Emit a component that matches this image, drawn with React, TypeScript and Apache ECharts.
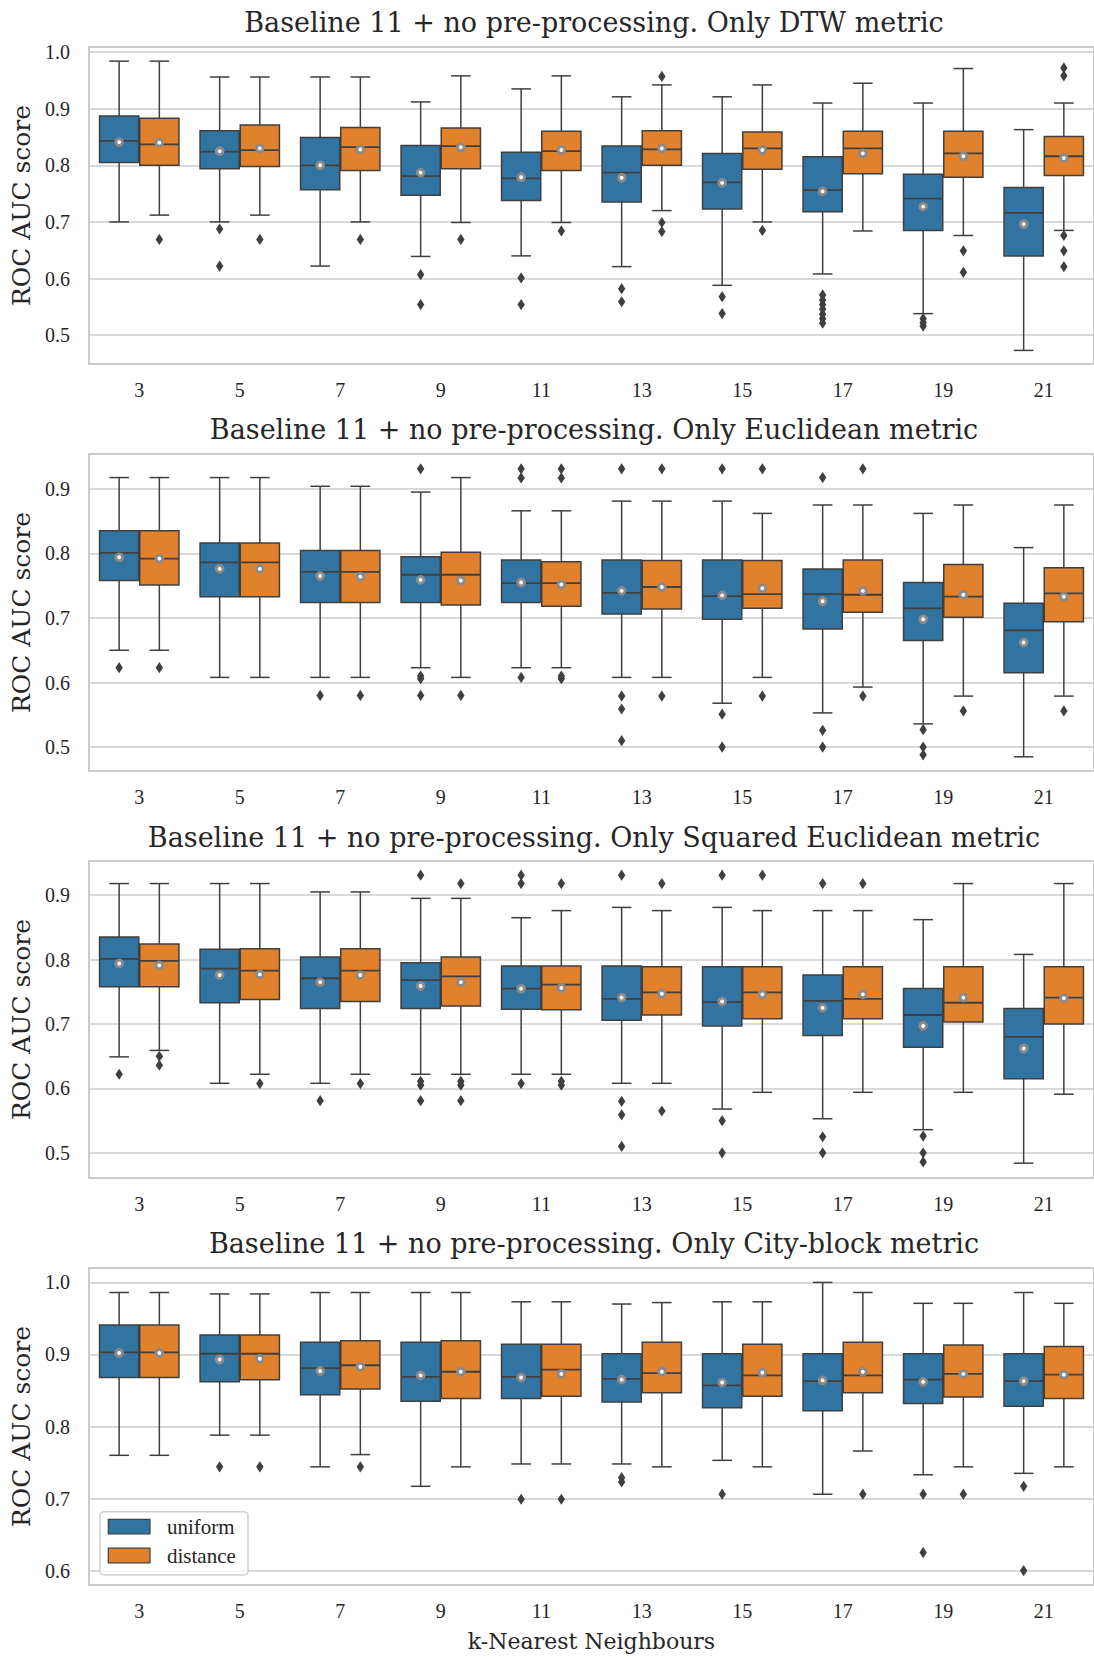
import { useEffect, useRef } from "react";
import * as echarts from "echarts";

// ---------- data ----------
const categories = ["3", "5", "7", "9", "11", "13", "15", "17", "19", "21"];
const groupNames = ["uniform", "distance"];
const panelTitles = [
  "Baseline 11 + no pre-processing. Only DTW metric",
  "Baseline 11 + no pre-processing. Only Euclidean metric",
  "Baseline 11 + no pre-processing. Only Squared Euclidean metric",
  "Baseline 11 + no pre-processing. Only City-block metric",
];
const yRanges = [
  [0.449, 1.009],
  [0.463, 0.954],
  [0.461, 0.953],
  [0.58, 1.02],
];

// [lower whisker, Q1, median, Q3, upper whisker]
const dtwUniform = [
  [0.7, 0.805, 0.843, 0.887, 0.984],
  [0.7, 0.794, 0.824, 0.861, 0.956],
  [0.622, 0.757, 0.8, 0.849, 0.956],
  [0.639, 0.747, 0.781, 0.835, 0.912],
  [0.64, 0.738, 0.777, 0.823, 0.935],
  [0.621, 0.735, 0.787, 0.834, 0.921],
  [0.588, 0.723, 0.77, 0.821, 0.921],
  [0.608, 0.718, 0.756, 0.815, 0.91],
  [0.538, 0.685, 0.741, 0.784, 0.91],
  [0.473, 0.64, 0.716, 0.761, 0.863],
];
const dtwUniformMean = [0.841, 0.825, 0.8, 0.787, 0.779, 0.778, 0.769, 0.754, 0.727, 0.696];
const dtwUniformOut = [
  [], [0.6875, 0.622], [], [0.607, 0.554], [0.601, 0.554], [0.582, 0.559], [0.568, 0.538],
  [0.571, 0.562, 0.554, 0.546, 0.537, 0.529, 0.521], [0.529, 0.522, 0.516], [],
];
const dtwDistance = [
  [0.712, 0.8, 0.837, 0.883, 0.984],
  [0.712, 0.798, 0.827, 0.871, 0.956],
  [0.7, 0.791, 0.832, 0.867, 0.956],
  [0.699, 0.794, 0.834, 0.866, 0.958],
  [0.699, 0.791, 0.825, 0.86, 0.958],
  [0.72, 0.8, 0.828, 0.861, 0.942],
  [0.7, 0.793, 0.83, 0.859, 0.942],
  [0.684, 0.785, 0.83, 0.86, 0.945],
  [0.676, 0.779, 0.821, 0.86, 0.971],
  [0.685, 0.782, 0.816, 0.851, 0.91],
];
const dtwDistanceMean = [0.84, 0.83, 0.828, 0.832, 0.827, 0.83, 0.827, 0.821, 0.816, 0.813];
const dtwDistanceOut = [
  [0.669], [0.669], [0.669], [0.669], [0.684], [0.957, 0.699, 0.683], [0.685], [],
  [0.649, 0.611], [0.972, 0.958, 0.676, 0.649, 0.621],
];

const eucUniform = [
  [0.65, 0.758, 0.801, 0.835, 0.9175],
  [0.608, 0.733, 0.786, 0.816, 0.9175],
  [0.608, 0.724, 0.7715, 0.8045, 0.904],
  [0.623, 0.724, 0.767, 0.795, 0.895],
  [0.623, 0.724, 0.754, 0.79, 0.866],
  [0.608, 0.706, 0.739, 0.79, 0.881],
  [0.568, 0.698, 0.734, 0.79, 0.881],
  [0.553, 0.683, 0.737, 0.776, 0.875],
  [0.536, 0.665, 0.715, 0.755, 0.862],
  [0.485, 0.615, 0.681, 0.723, 0.809],
];
const eucUniformMean = [0.794, 0.776, 0.765, 0.759, 0.755, 0.742, 0.735, 0.726, 0.698, 0.662];
const eucUniformOut = [
  [0.623], [], [0.58], [0.931, 0.61, 0.606, 0.58], [0.931, 0.917, 0.608], [0.931, 0.579, 0.559, 0.51],
  [0.931, 0.551, 0.5], [0.9175, 0.526, 0.5], [0.527, 0.5, 0.488], [],
];
const eucDistance = [
  [0.65, 0.751, 0.792, 0.835, 0.9175],
  [0.608, 0.733, 0.786, 0.816, 0.9175],
  [0.608, 0.724, 0.7715, 0.8045, 0.904],
  [0.608, 0.72, 0.767, 0.802, 0.9175],
  [0.623, 0.718, 0.754, 0.787, 0.866],
  [0.608, 0.714, 0.748, 0.789, 0.881],
  [0.608, 0.715, 0.737, 0.789, 0.862],
  [0.593, 0.709, 0.736, 0.79, 0.875],
  [0.579, 0.701, 0.733, 0.783, 0.875],
  [0.579, 0.694, 0.738, 0.778, 0.875],
];
const eucDistanceMean = [0.792, 0.776, 0.764, 0.758, 0.752, 0.748, 0.746, 0.742, 0.736, 0.733];
const eucDistanceOut = [
  [0.623], [], [0.58], [0.58], [0.931, 0.917, 0.61, 0.606], [0.931, 0.579], [0.931, 0.579],
  [0.931, 0.579], [0.556], [0.556],
];

const sqUniform = [
  [0.649, 0.758, 0.801, 0.835, 0.918],
  [0.608, 0.733, 0.786, 0.816, 0.918],
  [0.608, 0.724, 0.771, 0.804, 0.905],
  [0.622, 0.724, 0.768, 0.795, 0.895],
  [0.622, 0.723, 0.755, 0.79, 0.865],
  [0.608, 0.706, 0.739, 0.79, 0.881],
  [0.568, 0.697, 0.734, 0.789, 0.881],
  [0.553, 0.682, 0.736, 0.776, 0.876],
  [0.536, 0.664, 0.714, 0.755, 0.862],
  [0.484, 0.615, 0.68, 0.724, 0.808],
];
const sqUniformMean = [0.794, 0.776, 0.765, 0.759, 0.755, 0.741, 0.735, 0.725, 0.697, 0.662];
const sqUniformOut = [
  [0.622], [], [0.581], [0.931, 0.611, 0.605, 0.581], [0.931, 0.918, 0.6075], [0.931, 0.58, 0.559, 0.51],
  [0.931, 0.55, 0.5], [0.918, 0.525, 0.5], [0.526, 0.5, 0.486], [],
];
const sqDistance = [
  [0.659, 0.758, 0.798, 0.824, 0.918],
  [0.622, 0.738, 0.783, 0.817, 0.918],
  [0.622, 0.735, 0.783, 0.817, 0.905],
  [0.622, 0.728, 0.774, 0.804, 0.895],
  [0.622, 0.722, 0.761, 0.79, 0.876],
  [0.608, 0.714, 0.749, 0.789, 0.876],
  [0.594, 0.708, 0.749, 0.789, 0.876],
  [0.594, 0.708, 0.739, 0.789, 0.876],
  [0.594, 0.703, 0.733, 0.789, 0.918],
  [0.591, 0.7, 0.741, 0.789, 0.918],
];
const sqDistanceMean = [0.791, 0.777, 0.776, 0.765, 0.756, 0.747, 0.746, 0.746, 0.741, 0.74];
const sqDistanceOut = [
  [0.65, 0.636], [0.6075], [0.6075], [0.918, 0.611, 0.605, 0.581], [0.918, 0.611, 0.605], [0.918, 0.565],
  [0.931], [0.918], [], [],
];

const cityUniform = [
  [0.76, 0.868, 0.903, 0.941, 0.986],
  [0.788, 0.862, 0.901, 0.927, 0.984],
  [0.744, 0.844, 0.881, 0.917, 0.986],
  [0.717, 0.835, 0.869, 0.917, 0.986],
  [0.748, 0.839, 0.869, 0.914, 0.973],
  [0.748, 0.834, 0.866, 0.901, 0.97],
  [0.753, 0.826, 0.857, 0.901, 0.973],
  [0.706, 0.822, 0.863, 0.901, 1.0],
  [0.733, 0.832, 0.865, 0.901, 0.971],
  [0.735, 0.828, 0.863, 0.901, 0.986],
];
const cityUniformMean = [0.902, 0.893, 0.877, 0.871, 0.868, 0.865, 0.861, 0.864, 0.862, 0.863];
const cityUniformOut = [
  [], [0.744], [], [], [0.699], [0.729, 0.723], [0.706], [], [0.706, 0.625], [0.717, 0.6],
];
const cityDistance = [
  [0.76, 0.868, 0.903, 0.941, 0.986],
  [0.788, 0.865, 0.901, 0.927, 0.984],
  [0.761, 0.852, 0.885, 0.919, 0.986],
  [0.744, 0.839, 0.876, 0.919, 0.986],
  [0.748, 0.842, 0.879, 0.914, 0.973],
  [0.744, 0.847, 0.874, 0.917, 0.972],
  [0.744, 0.842, 0.871, 0.914, 0.973],
  [0.766, 0.847, 0.871, 0.917, 0.986],
  [0.744, 0.841, 0.873, 0.913, 0.971],
  [0.744, 0.839, 0.872, 0.911, 0.971],
];
const cityDistanceMean = [0.902, 0.894, 0.883, 0.876, 0.873, 0.876, 0.875, 0.876, 0.873, 0.872];
const cityDistanceOut = [
  [], [0.744], [0.744], [], [0.699], [], [], [0.706], [0.706], [],
];

const panelBoxes = [
  [dtwUniform, dtwDistance],
  [eucUniform, eucDistance],
  [sqUniform, sqDistance],
  [cityUniform, cityDistance],
];
const panelMeans = [
  [dtwUniformMean, dtwDistanceMean],
  [eucUniformMean, eucDistanceMean],
  [sqUniformMean, sqDistanceMean],
  [cityUniformMean, cityDistanceMean],
];
const panelOutliers = [
  [dtwUniformOut, dtwDistanceOut],
  [eucUniformOut, eucDistanceOut],
  [sqUniformOut, sqDistanceOut],
  [cityUniformOut, cityDistanceOut],
];

// ---------- styles / layout ----------
const COLORS = ["#3274a1", "#e1812c"];
const OFFSETS = [-0.2, 0.2];
const LINE = "#3f3f3f";
const TEXT = "#262626";
const GRIDC = "#cccccc";
const GRID_LEFT = 89;
const GRID_WIDTH = 1013;
const GRID_TOPS = [47, 454, 861, 1268];
const GRID_H = 317;
const TITLE_Y = [22.8, 429.8, 837.2, 1243.8];
const TITLE_X = 594;
const WORD_FONT = "DejaVu Serif";
const NUM_FONT = "Liberation Serif";

function boxRenderer(offset: number, fill: string) {
  return (_params: any, api: any) => {
    const cat = api.value(0);
    const band = api.size([1, 0])[0];
    const cx = api.coord([cat, 0])[0] + offset * band;
    const w = band * 0.39;
    const y = (d: number) => api.coord([cat, api.value(d)])[1];
    const yMin = y(1), yQ1 = y(2), yMed = y(3), yQ3 = y(4), yMax = y(5), yMean = y(6);
    const ls = { stroke: LINE, lineWidth: 1.5 };
    return {
      type: "group",
      children: [
        { type: "line", shape: { x1: cx, y1: yQ3, x2: cx, y2: yMax }, style: ls },
        { type: "line", shape: { x1: cx, y1: yQ1, x2: cx, y2: yMin }, style: ls },
        { type: "line", shape: { x1: cx - w / 4, y1: yMax, x2: cx + w / 4, y2: yMax }, style: ls },
        { type: "line", shape: { x1: cx - w / 4, y1: yMin, x2: cx + w / 4, y2: yMin }, style: ls },
        {
          type: "rect",
          shape: { x: cx - w / 2, y: yQ3, width: w, height: yQ1 - yQ3 },
          style: { fill, stroke: LINE, lineWidth: 1.5 },
        },
        { type: "line", shape: { x1: cx - w / 2, y1: yMed, x2: cx + w / 2, y2: yMed }, style: { stroke: LINE, lineWidth: 1.8 } },
        { type: "circle", shape: { cx, cy: yMean, r: 3.4 }, style: { fill: "#ffffff", stroke: "#8a8a8a", lineWidth: 2.9 } },
      ],
    };
  };
}

function outlierRenderer(_params: any, api: any) {
  const cat = api.value(0);
  const g = api.value(1);
  const band = api.size([1, 0])[0];
  const p = api.coord([cat, api.value(2)]);
  const x = p[0] + OFFSETS[g] * band;
  const yy = p[1];
  return {
    type: "polygon",
    shape: { points: [[x, yy - 5.6], [x + 3.7, yy], [x, yy + 5.6], [x - 3.7, yy]] },
    style: { fill: LINE },
  };
}

function tickFmt(v: number) {
  const r = Math.round(v * 10);
  return Math.abs(v * 10 - r) < 1e-6 ? (r / 10).toFixed(1) : "";
}

function buildOption() {
  const grid: any[] = [];
  const xAxis: any[] = [];
  const yAxis: any[] = [];
  const series: any[] = [];
  const graphic: any[] = [];
  for (let i = 0; i < 4; i++) {
    grid.push({
      left: GRID_LEFT,
      top: GRID_TOPS[i],
      width: GRID_WIDTH,
      height: GRID_H,
      show: true,
      borderColor: GRIDC,
      borderWidth: 2,
      backgroundColor: "transparent",
    });
    xAxis.push({
      gridIndex: i,
      type: "category",
      data: categories,
      axisLine: { show: false },
      axisTick: { show: false },
      splitLine: { show: false },
      axisLabel: { fontFamily: NUM_FONT, fontSize: 20, color: TEXT, margin: 16 },
      name: i === 3 ? "k-Nearest Neighbours" : "",
      nameLocation: "middle",
      nameGap: 45,
      nameTextStyle: { fontFamily: WORD_FONT, fontSize: 22, color: TEXT },
    });
    yAxis.push({
      gridIndex: i,
      type: "value",
      min: yRanges[i][0],
      max: yRanges[i][1],
      splitNumber: 5,
      minInterval: 0.1,
      maxInterval: 0.1,
      axisLine: { show: false },
      axisTick: { show: false },
      splitLine: { show: true, lineStyle: { color: GRIDC, width: 1.5 } },
      axisLabel: { formatter: tickFmt, fontFamily: NUM_FONT, fontSize: 20, color: TEXT, margin: 19 },
      name: "ROC AUC score",
      nameLocation: "middle",
      nameGap: 51,
      nameTextStyle: { fontFamily: WORD_FONT, fontSize: 25, color: TEXT },
    });
    for (let g = 0; g < 2; g++) {
      const boxes = panelBoxes[i][g];
      const means = panelMeans[i][g];
      series.push({
        type: "custom",
        name: groupNames[g],
        xAxisIndex: i,
        yAxisIndex: i,
        itemStyle: { color: COLORS[g] },
        encode: { x: 0, y: [1, 2, 3, 4, 5, 6] },
        data: boxes.map((b, k) => [k, ...b, means[k]]),
        renderItem: boxRenderer(OFFSETS[g], COLORS[g]),
        z: 3,
      });
    }
    const outData: number[][] = [];
    for (let g = 0; g < 2; g++) {
      panelOutliers[i][g].forEach((vals, k) => vals.forEach((v) => outData.push([k, g, v])));
    }
    series.push({
      type: "custom",
      name: "outliers",
      xAxisIndex: i,
      yAxisIndex: i,
      encode: { x: 0, y: 2 },
      data: outData,
      renderItem: outlierRenderer,
      z: 4,
    });
    graphic.push({
      type: "text",
      x: TITLE_X,
      y: TITLE_Y[i],
      style: {
        text: panelTitles[i],
        font: `27px "${WORD_FONT}"`,
        fill: TEXT,
        align: "center",
        verticalAlign: "middle",
        textAlign: "center",
        textVerticalAlign: "middle",
      },
    });
  }
  // legend (drawn in the last panel)
  const lx = 100, ly = 1511.7;
  graphic.push({
    type: "rect",
    shape: { x: lx, y: ly, width: 148, height: 63.3, r: 4 },
    style: { fill: "rgba(255,255,255,0.8)", stroke: "#d0d0d0", lineWidth: 1.5 },
    z: 10,
  });
  groupNames.forEach((nm, g) => {
    const cy = 1526.7 + g * 28.8;
    graphic.push({
      type: "rect",
      shape: { x: 108.3, y: cy - 7.3, width: 41.7, height: 14.6 },
      style: { fill: COLORS[g], stroke: LINE, lineWidth: 1.2 },
      z: 11,
    });
    graphic.push({
      type: "text",
      x: 167,
      y: cy,
      style: {
        text: nm,
        font: `21px "${NUM_FONT}"`,
        fill: TEXT,
        align: "left",
        verticalAlign: "middle",
        textAlign: "left",
        textVerticalAlign: "middle",
      },
      z: 11,
    });
  });
  return { animation: false, backgroundColor: "#ffffff", grid, xAxis, yAxis, series, graphic };
}

export default function App() {
  const ref = useRef<HTMLDivElement>(null);
  useEffect(() => {
    document.body.style.margin = "0";
    if (!ref.current) return;
    const chart = echarts.init(ref.current, undefined, { renderer: "svg" });
    chart.setOption(buildOption() as any);
    return () => chart.dispose();
  }, []);
  return <div ref={ref} style={{ width: 1094, height: 1659 }} />;
}
